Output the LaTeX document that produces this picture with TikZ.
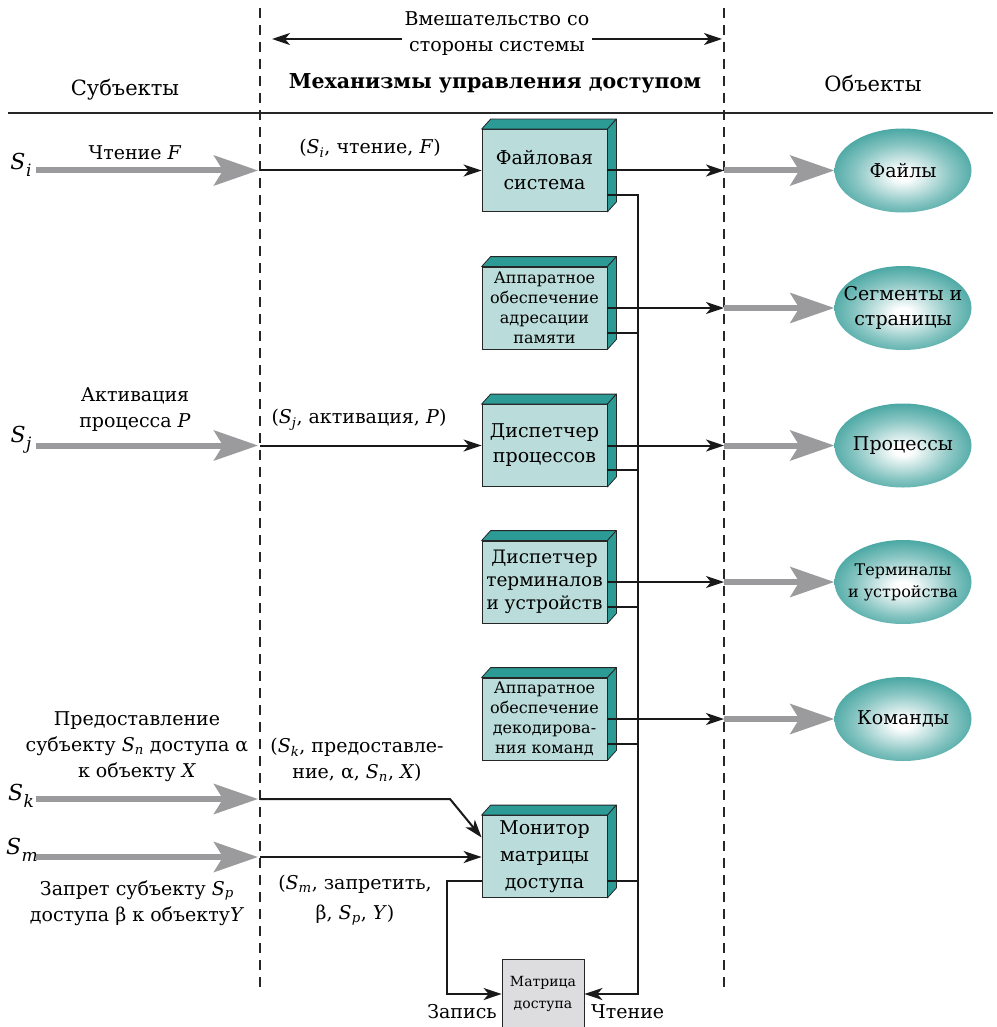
\documentclass[tikz,border=0pt]{standalone}
\usepackage{fontspec}
\setmainfont{DejaVu Serif}
\usetikzlibrary{arrows.meta,shapes.geometric,calc}
\definecolor{frontc}{RGB}{186,220,218}
\definecolor{sidec}{RGB}{44,155,150}
\definecolor{ovalteal}{RGB}{34,148,143}
\definecolor{grayarr}{RGB}{155,155,158}
\definecolor{matc}{RGB}{221,221,223}
\pgfdeclareradialshading{ovalshade}{\pgfpoint{0bp}{-3bp}}{color(0bp)=(white); color(3bp)=(white); color(18bp)=(ovalteal!55); color(33bp)=(ovalteal); color(70bp)=(ovalteal)}
\newcommand{\fs}[2]{\fontsize{#1}{#2}\selectfont}
\newcommand{\Ss}[1]{\textit{S}\textsubscript{\textit{#1}}}
\newcommand{\Sbig}[1]{\textit{S}\kern0.5pt\raisebox{-0.3em}{\fs{17}{17}\textit{#1}}}
\newcommand{\cubefaces}[1]{%
  \filldraw[fill=sidec,draw=black!85,line width=0.8pt,line join=round] (#1.north west) -- ++(9,-10) -- ($(#1.north east)+(9,-10)$) -- (#1.north east) -- cycle;
  \filldraw[fill=sidec,draw=black!85,line width=0.8pt,line join=round] (#1.north east) -- ++(9,-10) -- ($(#1.south east)+(9,-10)$) -- (#1.south east) -- cycle;}
\tikzset{
  lbl/.style={font=\fs{19}{26}, align=center, inner sep=0pt},
  frontbox/.style={draw=black!85, line width=0.8pt, fill=frontc, minimum width=125pt, minimum height=82pt, inner sep=0pt, align=center},
  bigtxt/.style={font=\fs{19}{25}},
  smalltxt/.style={font=\fs{16}{20}},
  obj/.style={ellipse, shading=ovalshade, minimum width=137pt, minimum height=84pt, inner sep=-12pt, align=center, font=\fs{19}{25}},
  garrow/.style={draw=grayarr, line width=6pt, -{Stealth[length=44pt,width=30pt,inset=9pt]}},
  barrow/.style={draw=black!90, line width=2pt, -{Stealth[length=18pt,width=12pt,inset=5pt]}},
  bline/.style={draw=black!90, line width=2pt},
  dashv/.style={draw=black!85, line width=2.2pt, dash pattern=on 10pt off 7pt},
}
\begin{document}
\begin{tikzpicture}[x=1pt,y=-1pt]
\useasboundingbox (0,0) rectangle (996,1027);
% frame lines
\coordinate (dLt) at (260,8); \coordinate (dLb) at (260,990);
\coordinate (dRt) at (724,8); \coordinate (dRb) at (724,990);
\coordinate (hl) at (8,113); \coordinate (hr) at (993,113);
\coordinate (vbus) at (638,0);
\coordinate (turnL) at (447,0);
\draw[dashv] (dLt) -- (dLb);
\draw[dashv] (dRt) -- (dRb);
\draw[line width=1.2pt,black!85] (hl) -- (hr);
% header
\coordinate (aL) at (272,39); \coordinate (aR) at (722,39);
\draw[barrow,{Stealth[length=18pt,width=12pt,inset=5pt]}-{Stealth[length=18pt,width=12pt,inset=5pt]}] (aL) -- (aR);
\node[lbl, font=\fs{19}{26}, fill=white, inner xsep=3pt] (vm) at (497,34) {Вмешательство со\\стороны системы};
\node[lbl, font=\fs{21}{26}] (subj) at (125,90) {Субъекты};
\node[lbl, font=\bfseries\fs{20.5}{26}] (mech) at (495,83) {Механизмы управления доступом};
\node[lbl, font=\fs{21}{26}] (objs) at (873,83) {Объекты};
% boxes
\node[frontbox, bigtxt] (b1) at (544.5,170.5) {Файловая\\система};
\node[frontbox, smalltxt] (b2) at (544.5,308) {Аппаратное\\обеспечение\\адресации\\памяти};
\node[frontbox, bigtxt] (b3) at (544.5,445.5) {Диспетчер\\процессов};
\node[frontbox, font=\fs{18.5}{23}] (b4) at (544.5,582) {Диспетчер\\терминалов\\и устройств};
\node[frontbox, smalltxt] (b5) at (544.5,719) {Аппаратное\\обеспечение\\декодирова-\\ния команд};
\node[frontbox, font=\fs{19}{27}] (b6) at (544.5,856.5) {Монитор\\матрицы\\доступа};
\cubefaces{b1}\cubefaces{b2}\cubefaces{b3}\cubefaces{b4}\cubefaces{b5}\cubefaces{b6}
\node[draw=black!85, line width=0.8pt, fill=matc, minimum width=82pt, minimum height=70pt, inner sep=0pt, align=center, font=\fs{14}{22}] (mat) at (543,994) {Матрица\\доступа};
% objects
\node[obj] (o1) at (903,170.5) {Файлы};
\node[obj] (o2) at (903,308) {Сегменты и\\страницы};
\node[obj] (o3) at (903,445.5) {Процессы};
\node[obj, font=\fs{16}{22}] (o4) at (903,582) {Терминалы\\и устройства};
\node[obj] (o5) at (903,719) {Команды};
% box outputs
\foreach \b/\o in {b1/o1,b2/o2,b3/o3,b4/o4,b5/o5}{
  \draw[barrow] (\b.east) -- (\b.east -| dRt);
  \draw[garrow] (\b.east -| dRt) -- (\o.west);
}
\foreach \b in {b1,b2,b3,b4,b5,b6}{
  \coordinate (\b lo) at ([yshift=-24.5pt]\b.east);
}
\draw[barrow] (b1lo) -- (b1lo -| vbus) -- (vbus |- mat.east) -- (mat.east);
\foreach \b in {b2,b3,b4,b5,b6}{
  \draw[bline] (\b lo) -- (\b lo -| vbus);
}
\draw[barrow] (b6lo -| b6.west) -- (turnL |- b6lo) -- (turnL |- mat.west) -- (mat.west);
\node[lbl, font=\fs{19}{26}, anchor=east] (zap) at (497,1012) {Запись};
\node[lbl, font=\fs{19}{26}, anchor=west] (cht) at (591,1012) {Чтение};
% subjects
\node[lbl, font=\fs{22}{26}] (si) at (21,165) {\Sbig{i}};
\node[lbl, font=\fs{22}{26}] (sj) at (21,440) {\Sbig{j}};
\node[lbl, font=\fs{22}{26}] (sk) at (21,796) {\Sbig{k}};
\node[lbl, font=\fs{22}{26}] (sm) at (22,850) {\Sbig{m}};
\coordinate (gi) at (36,0); 
\coordinate (sky) at (0,799);
\coordinate (smy) at (0,857);
\draw[garrow] (gi |- b1.west) -- ([xshift=-2pt]dLt |- b1.west);
\draw[garrow] (gi |- b3.west) -- ([xshift=-2pt]dLt |- b3.west);
\draw[garrow] (gi |- sky) -- ([xshift=-2pt]dLt |- sky);
\draw[garrow] (gi |- smy) -- ([xshift=-2pt]dLt |- smy);
\draw[barrow] (dLt |- b1.west) -- (b1.west);
\draw[barrow] (dLt |- b3.west) -- (b3.west);
\coordinate (skbend) at (450,799);
\coordinate (b6in) at ([yshift=19pt]b6.west);
\draw[barrow] (dLt |- sky) -- (skbend) -- (b6in);
\draw[barrow] (dLt |- smy) -- (smy -| b6.west);
% left labels
\node[lbl] (li) at (135,153) {Чтение \textit{F}};
\node[lbl] (lj) at (135,410) {Активация\\процесса \textit{P}};
\node[lbl] (lk) at (137,747) {Предоставление\\субъекту \Ss{n} доступа α\\к объекту \textit{X}};
\node[lbl] (lm) at (137,903) {Запрет субъекту \Ss{p}\\доступа β к объекту\textit{Y}};
% middle labels
\node[lbl] (mi) at (370,148) {(\Ss{i}, чтение, \textit{F})};
\node[lbl] (mj) at (359,420) {(\Ss{j}, активация, \textit{P})};
\node[lbl] (mk) at (357,760) {(\Ss{k}, предоставле-\\ние, α, \Ss{n}, \textit{X})};
\node[lbl, font=\fs{19}{30}] (mm) at (355,900) {(\Ss{m}, запретить,\\β, \Ss{p}, \textit{Y})};
\end{tikzpicture}
\end{document}
